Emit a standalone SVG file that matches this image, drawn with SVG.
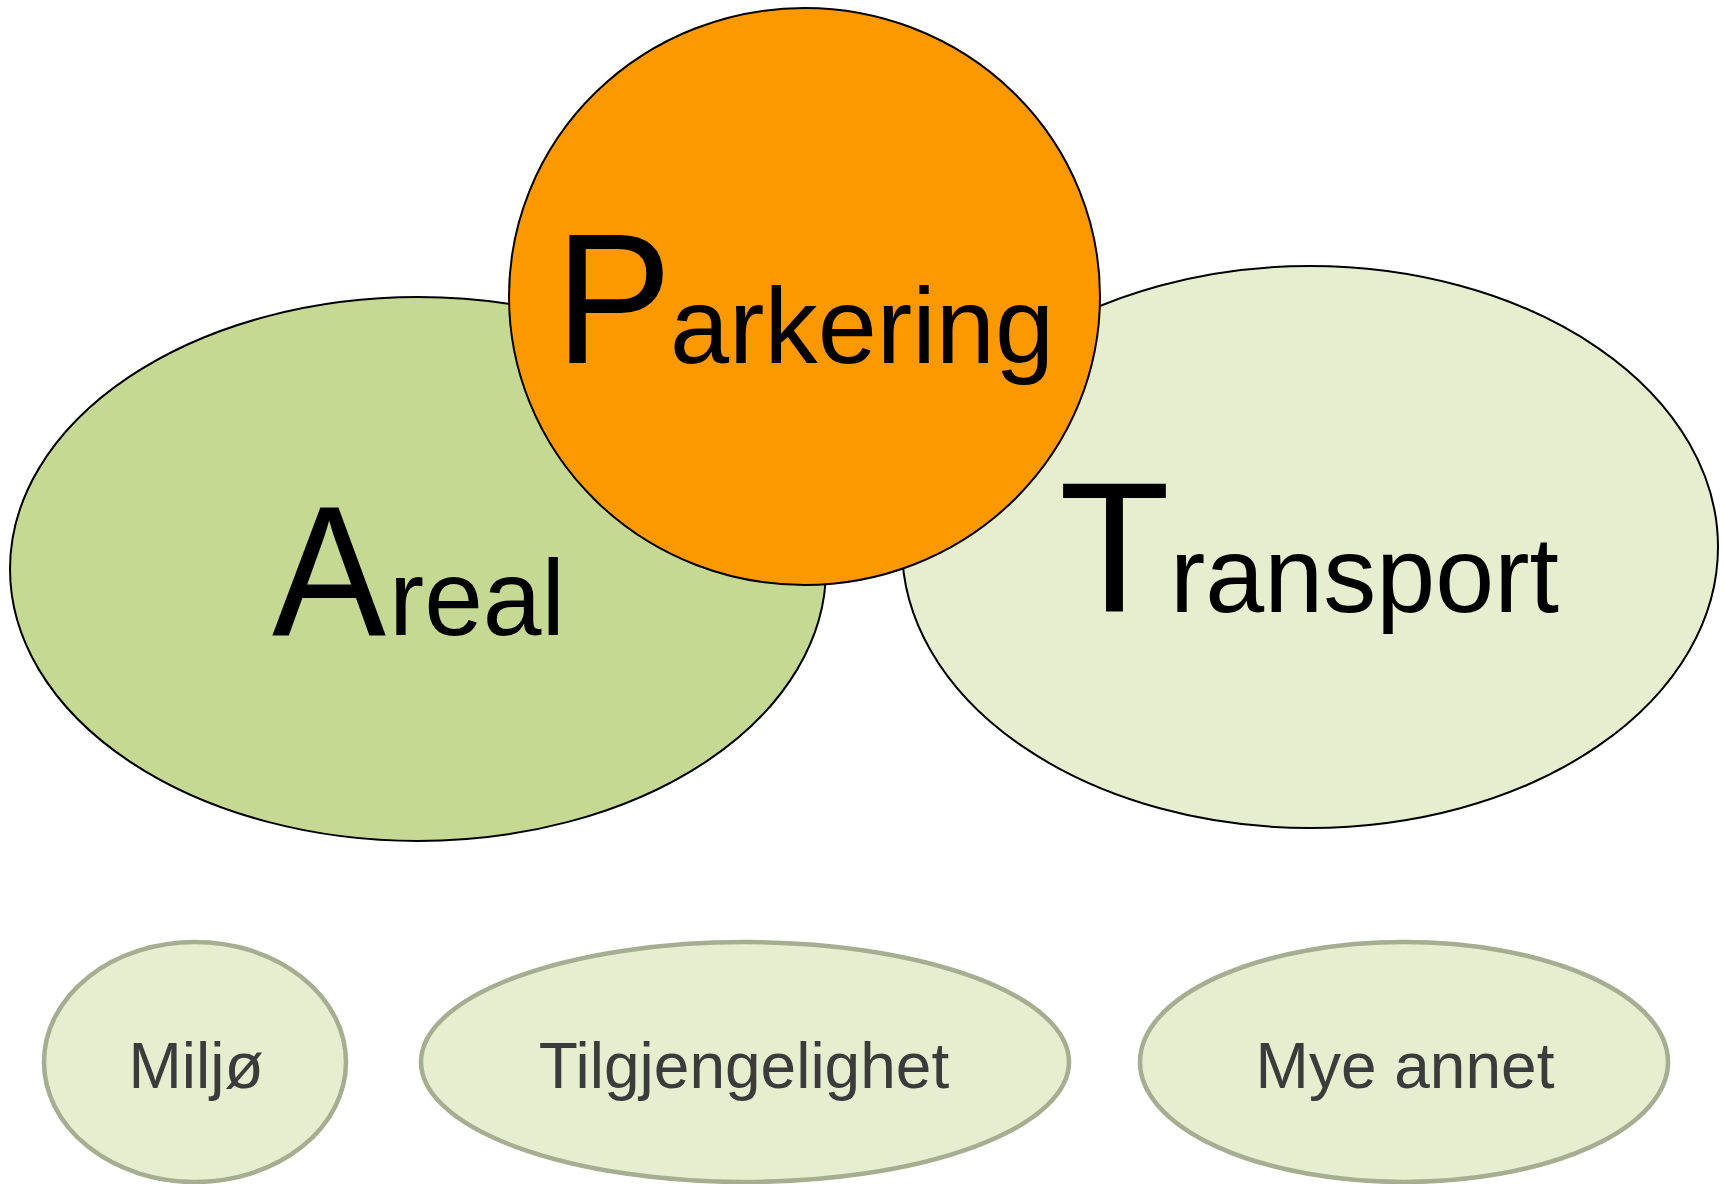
<svg xmlns="http://www.w3.org/2000/svg" width="1725" height="1184" viewBox="0 0 1725 1184">
  <style>
    .big { stroke: #000; stroke-width: 2; }
    .small { fill: #E6EECF; stroke: #A6AD90; stroke-width: 4.5; }
    .lbl { font-family: "Liberation Sans", Arial, sans-serif; fill: #000; }
    .cap { font-size: 185px; }
    .rest { font-size: 108px; }
    .sub { font-family: "Liberation Sans", Arial, sans-serif; font-size: 64px; fill: #3B3B3B; text-anchor: middle; }
  </style>
  <rect width="1725" height="1184" fill="#fff"/>

  <!-- Areal -->
  <g id="areal">
    <ellipse class="big" cx="418" cy="569" rx="408" ry="272" fill="#C5D994"/>
    <text class="lbl cap" x="272" y="635" textLength="114" lengthAdjust="spacingAndGlyphs">A</text>
    <text class="lbl rest" x="389" y="635" textLength="176" lengthAdjust="spacingAndGlyphs">real</text>
  </g>

  <!-- Transport -->
  <g id="transport">
    <ellipse class="big" cx="1310" cy="547" rx="408" ry="281" fill="#E6EECF"/>
    <text class="lbl cap" x="1059" y="612" textLength="111" lengthAdjust="spacingAndGlyphs">T</text>
    <text class="lbl rest" x="1170" y="612" textLength="389" lengthAdjust="spacingAndGlyphs">ransport</text>
  </g>

  <!-- Parkering (drawn last so it overlaps both) -->
  <g id="parkering">
    <ellipse class="big" cx="804.5" cy="296.5" rx="295.5" ry="288.5" fill="#FD9900"/>
    <text class="lbl cap" x="555" y="363" textLength="117" lengthAdjust="spacingAndGlyphs">P</text>
    <text class="lbl rest" x="670" y="363" textLength="384" lengthAdjust="spacingAndGlyphs">arkering</text>
  </g>

  <!-- Bottom themes -->
  <g id="miljo">
    <ellipse class="small" cx="195" cy="1062" rx="151" ry="120"/>
    <text class="sub" x="196" y="1088">Miljø</text>
  </g>
  <g id="tilgjengelighet">
    <ellipse class="small" cx="745" cy="1062" rx="324" ry="120"/>
    <text class="sub" x="744" y="1088">Tilgjengelighet</text>
  </g>
  <g id="mye-annet">
    <ellipse class="small" cx="1404" cy="1062" rx="264" ry="120"/>
    <text class="sub" x="1405" y="1088">Mye annet</text>
  </g>
</svg>
